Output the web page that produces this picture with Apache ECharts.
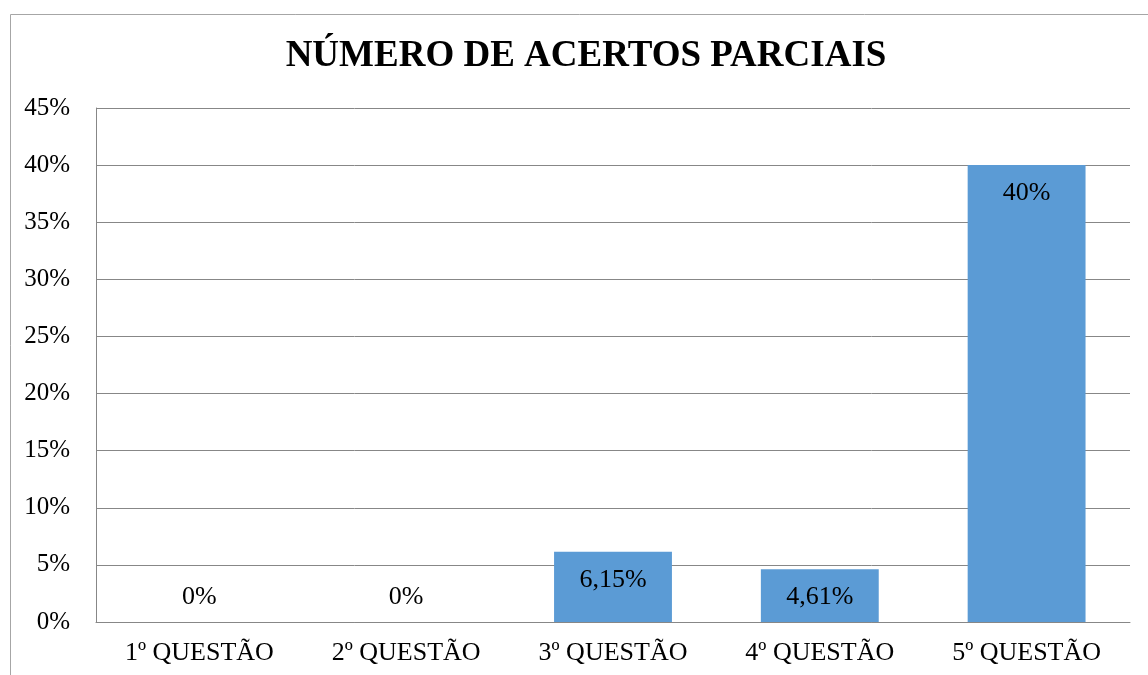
<!DOCTYPE html>
<html>
<head>
<meta charset="utf-8">
<script src="https://cdn.jsdelivr.net/npm/echarts@6/dist/echarts.min.js"></script>
<style>html,body{margin:0;padding:0;background:#fff;}#c{width:1148px;height:675px;}</style>
</head>
<body>
<div id="c"></div>
<script>
const categories = ['1º QUESTÃO', '2º QUESTÃO', '3º QUESTÃO', '4º QUESTÃO', '5º QUESTÃO'];
const values = [0, 0, 6.15, 4.61, 40];
const valueLabels = ['0%', '0%', '6,15%', '4,61%', '40%'];
const titleText = 'NÚMERO DE ACERTOS PARCIAIS';

const font = 'Liberation Serif, Times New Roman, serif';
const chart = echarts.init(document.getElementById('c'));
chart.setOption({
  animation: false,
  backgroundColor: '#fff',
  graphic: [{
    type: 'rect', left: 8, top: 12, z: -1,
    shape: { width: 1160, height: 700 },
    style: { fill: 'none', stroke: '#a6a6a6', lineWidth: 1 }
  }],
  title: {
    text: titleText, left: 581, top: 33, textAlign: 'center',
    textStyle: { fontFamily: font, fontWeight: 'bold', fontSize: 37, color: '#000' }
  },
  grid: { left: 96, right: 18, top: 108, bottom: 53, containLabel: false },
  xAxis: {
    type: 'category', data: categories,
    axisLine: { show: true, lineStyle: { color: '#878787', width: 1 } },
    axisTick: { show: false },
    axisLabel: { fontFamily: font, fontSize: 26, color: '#000', margin: 18 }
  },
  yAxis: {
    type: 'value', min: 0, max: 45, interval: 5,
    axisLine: { show: true, lineStyle: { color: '#878787', width: 1 } },
    axisTick: { show: false },
    splitLine: { lineStyle: { color: '#878787', width: 1 } },
    axisLabel: { fontFamily: font, fontSize: 25, color: '#000', margin: 26, formatter: v => v + '%' }
  },
  series: [{
    type: 'bar', barWidth: '57%',
    itemStyle: { color: '#5B9BD5' },
    data: values.map((v, i) => ({
      value: v,
      label: {
        show: true,
        formatter: valueLabels[i],
        position: v === 0 ? 'top' : 'insideTop',
        distance: v === 0 ? 12 : 15,
        fontFamily: font, fontSize: 26, color: '#000'
      }
    }))
  }]
});
</script>
</body>
</html>
